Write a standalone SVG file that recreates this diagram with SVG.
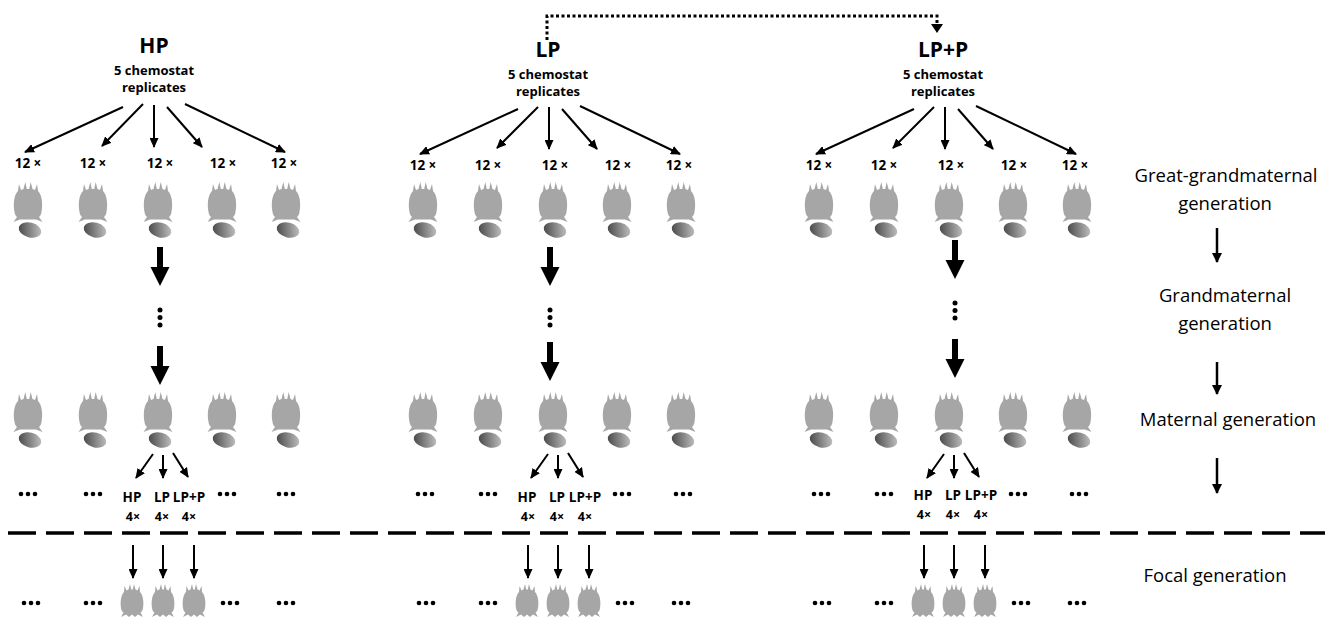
<svg xmlns="http://www.w3.org/2000/svg" width="1333" height="627" viewBox="0 0 1333 627">
<defs>
<style>
text{font-family:"Open Sans","Liberation Sans",sans-serif;fill:#000}
.t1{font-size:21px;font-weight:700;text-anchor:middle}
.t2{font-size:13px;font-weight:700;text-anchor:middle}
.n{font-size:13.5px;font-weight:700;text-anchor:middle}
.m{font-size:12.5px;font-weight:700;text-anchor:middle}
.gen{font-size:18.5px;text-anchor:middle}
.ar{stroke:#000;stroke-width:2;fill:none;marker-end:url(#ah)}
.ar2{stroke:#000;stroke-width:2.5;fill:none;marker-end:url(#ah2)}
.body{fill:#a6a6a6}
</style>
<linearGradient id="eggGrad" x1="0" y1="0.6" x2="1" y2="0.4">
<stop offset="0" stop-color="#4a4a4a"/><stop offset="1" stop-color="#bdbdbd"/>
</linearGradient>
<linearGradient id="baseGrad" x1="0" y1="0" x2="1" y2="0">
<stop offset="0" stop-color="#1a1a1a"/><stop offset="1" stop-color="#dddddd"/>
</linearGradient>
<marker id="ah" viewBox="0 0 10 9" refX="9" refY="4.5" markerWidth="10" markerHeight="9" markerUnits="userSpaceOnUse" orient="auto">
<path d="M0,0L10,4.5L0,9z"/>
</marker>
<marker id="ah2" viewBox="0 0 10 10" refX="9" refY="5" markerWidth="11" markerHeight="10" markerUnits="userSpaceOnUse" orient="auto">
<path d="M0,0L10,5L0,10z"/>
</marker>
<!-- rotifer body, top of crown at y=0, centred on x=0 -->
<path id="rot" d="M-10,9 L-9,2 L-7,8 L-4.5,7 L-2.7,0 L-1.2,7 L1.2,7 L2.7,0 L4.5,7 L7,8 L9,2 L10,9 C14,13 15,22 13.5,30 C13,33 12,34 11,35 L14.5,40 L8,37.5 L-8,37.5 L-14.5,40 L-11,35 C-12,34 -13,33 -13.5,30 C-15,22 -14,13 -10,9 Z"/>
<!-- smaller hatchling body -->
<path id="young" d="M-8,8 L-7.5,2 L-5.5,6.5 L-3.5,5.5 L-2,0 L-0.8,5.5 L0.8,5.5 L2,0 L3.5,5.5 L5.5,6.5 L7.5,2 L8,8 C11,11 12,18 11,24 C10.5,27 9.5,28 8.5,28.5 L11,33 L6,30.5 L3,33 L0,30.5 L-3,33 L-6,30.5 L-11,33 L-8.5,28.5 C-9.5,28 -10.5,27 -11,24 C-12,18 -11,11 -8,8 Z"/>
<!-- rotifer with its egg -->
<g id="adult">
<use href="#rot" class="body"/>
<ellipse cx="2" cy="48" rx="11.5" ry="7.4" transform="rotate(14 2 48)" fill="url(#eggGrad)"/>
</g>
<g id="dots"><circle cx="-7" r="2.3"/><circle r="2.3"/><circle cx="7" r="2.3"/></g>
<!-- bold downward arrow -->
<polygon id="thick" points="-3,0 3,0 3,20 9.5,20 0,39 -9.5,20 -3,20"/>
</defs>

<rect width="1333" height="627" fill="#fff"/>

<!-- HP block -->
<g id="block-hp">
<g id="header-hp">
<text class="t1" x="154" y="53">HP</text>
<text class="t2" x="154" y="75">5 chemostat</text>
<text class="t2" x="154" y="92">replicates</text>
</g>
<g id="fan-hp">
<line class="ar" x1="123" y1="107" x2="25" y2="152"/>
<line class="ar" x1="143" y1="104" x2="102" y2="146"/>
<line class="ar" x1="154" y1="105" x2="154" y2="147"/>
<line class="ar" x1="167" y1="107" x2="202" y2="147"/>
<line class="ar" x1="185" y1="104" x2="285" y2="152"/>
</g>
<g id="counts-hp">
<text class="n" x="28" y="168">12 ×</text>
<text class="n" x="93" y="168">12 ×</text>
<text class="n" x="160" y="168">12 ×</text>
<text class="n" x="223" y="168">12 ×</text>
<text class="n" x="284" y="168">12 ×</text>
</g>
<g id="gg-hp">
<use href="#adult" x="28" y="182"/><use href="#adult" x="93" y="182"/><use href="#adult" x="158" y="182"/><use href="#adult" x="222" y="182"/><use href="#adult" x="286" y="182"/>
</g>
<g id="step-hp">
<use href="#thick" x="160" y="247"/>
<circle cx="160" cy="310" r="2.5"/><circle cx="160" cy="317.5" r="2.5"/><circle cx="160" cy="325" r="2.5"/>
<use href="#thick" x="160" y="346"/>
</g>
<g id="m-hp">
<use href="#adult" x="28" y="392"/><use href="#adult" x="93" y="392"/><use href="#adult" x="158" y="392"/><use href="#adult" x="222" y="392"/><use href="#adult" x="286" y="392"/>
</g>
<g id="split-hp">
<line class="ar" x1="153" y1="454" x2="136" y2="478"/>
<line class="ar" x1="163" y1="455" x2="163" y2="478"/>
<line class="ar" x1="173" y1="453" x2="188" y2="477"/>
<text class="n" x="132" y="502">HP</text><text class="n" x="162" y="502">LP</text><text class="n" x="189" y="502">LP+P</text>
<text class="m" x="133" y="521">4×</text><text class="m" x="162" y="521">4×</text><text class="m" x="189" y="521">4×</text>
<use href="#dots" x="28" y="494"/><use href="#dots" x="93" y="494"/><use href="#dots" x="227" y="494"/><use href="#dots" x="286" y="494"/>
</g>
<g id="focal-hp">
<line class="ar" x1="133" y1="545" x2="133" y2="578"/>
<line class="ar" x1="163" y1="545" x2="163" y2="578"/>
<line class="ar" x1="194" y1="545" x2="194" y2="578"/>
<use href="#young" class="body" x="132" y="584"/>
<use href="#young" class="body" x="163" y="584"/>
<use href="#young" class="body" x="194" y="584"/>
<use href="#dots" x="31" y="603"/><use href="#dots" x="93" y="603"/><use href="#dots" x="230" y="603"/><use href="#dots" x="286" y="603"/>
</g>
</g>

<!-- LP block -->
<g id="block-lp" transform="translate(395 0)">
<g id="header-lp">
<text class="t1" x="153" y="57">LP</text>
<text class="t2" x="153" y="79">5 chemostat</text>
<text class="t2" x="153" y="96">replicates</text>
</g>
<g id="fan-lp">
<line class="ar" x1="123" y1="109" x2="25" y2="154"/>
<line class="ar" x1="143" y1="107" x2="102" y2="148"/>
<line class="ar" x1="154" y1="107" x2="154" y2="149"/>
<line class="ar" x1="167" y1="109" x2="202" y2="149"/>
<line class="ar" x1="185" y1="106" x2="285" y2="154"/>
</g>
<g id="counts-lp">
<text class="n" x="28" y="170">12 ×</text>
<text class="n" x="93" y="170">12 ×</text>
<text class="n" x="160" y="170">12 ×</text>
<text class="n" x="223" y="170">12 ×</text>
<text class="n" x="284" y="170">12 ×</text>
</g>
<g id="gg-lp">
<use href="#adult" x="28" y="182"/><use href="#adult" x="93" y="182"/><use href="#adult" x="158" y="182"/><use href="#adult" x="222" y="182"/><use href="#adult" x="286" y="182"/>
</g>
<g id="step-lp">
<use href="#thick" x="155" y="247"/>
<circle cx="155" cy="310" r="2.5"/><circle cx="155" cy="317.5" r="2.5"/><circle cx="155" cy="325" r="2.5"/>
<use href="#thick" x="155" y="342"/>
</g>
<g id="m-lp">
<use href="#adult" x="28" y="392"/><use href="#adult" x="93" y="392"/><use href="#adult" x="158" y="392"/><use href="#adult" x="222" y="392"/><use href="#adult" x="286" y="392"/>
</g>
<g id="split-lp">
<line class="ar" x1="153" y1="454" x2="136" y2="478"/>
<line class="ar" x1="163" y1="455" x2="163" y2="478"/>
<line class="ar" x1="173" y1="453" x2="188" y2="477"/>
<text class="n" x="132" y="502">HP</text><text class="n" x="162" y="502">LP</text><text class="n" x="190" y="502">LP+P</text>
<text class="m" x="133" y="521">4×</text><text class="m" x="162" y="521">4×</text><text class="m" x="190" y="521">4×</text>
<use href="#dots" x="30" y="494"/><use href="#dots" x="93" y="494"/><use href="#dots" x="227" y="494"/><use href="#dots" x="288" y="494"/>
</g>
<g id="focal-lp">
<line class="ar" x1="133" y1="545" x2="133" y2="578"/>
<line class="ar" x1="163" y1="545" x2="163" y2="578"/>
<line class="ar" x1="194" y1="545" x2="194" y2="578"/>
<use href="#young" class="body" x="132" y="584"/>
<use href="#young" class="body" x="163" y="584"/>
<use href="#young" class="body" x="194" y="584"/>
<use href="#dots" x="31" y="603"/><use href="#dots" x="93" y="603"/><use href="#dots" x="230" y="603"/><use href="#dots" x="286" y="603"/>
</g>
</g>

<!-- LP+P block -->
<g id="block-lpp" transform="translate(791 0)">
<g id="header-lpp">
<text class="t1" x="152" y="57">LP+P</text>
<text class="t2" x="152" y="79">5 chemostat</text>
<text class="t2" x="152" y="96">replicates</text>
</g>
<g id="fan-lpp">
<line class="ar" x1="123" y1="109" x2="25" y2="154"/>
<line class="ar" x1="143" y1="107" x2="102" y2="148"/>
<line class="ar" x1="154" y1="107" x2="154" y2="149"/>
<line class="ar" x1="167" y1="109" x2="202" y2="149"/>
<line class="ar" x1="185" y1="106" x2="285" y2="154"/>
</g>
<g id="counts-lpp">
<text class="n" x="28" y="170">12 ×</text>
<text class="n" x="93" y="170">12 ×</text>
<text class="n" x="160" y="170">12 ×</text>
<text class="n" x="223" y="170">12 ×</text>
<text class="n" x="284" y="170">12 ×</text>
</g>
<g id="gg-lpp">
<use href="#adult" x="28" y="182"/><use href="#adult" x="93" y="182"/><use href="#adult" x="158" y="182"/><use href="#adult" x="222" y="182"/><use href="#adult" x="286" y="182"/>
</g>
<g id="step-lpp">
<use href="#thick" x="164" y="240"/>
<circle cx="164" cy="303" r="2.5"/><circle cx="164" cy="310.5" r="2.5"/><circle cx="164" cy="318" r="2.5"/>
<use href="#thick" x="164" y="339"/>
</g>
<g id="m-lpp">
<use href="#adult" x="28" y="392"/><use href="#adult" x="93" y="392"/><use href="#adult" x="158" y="392"/><use href="#adult" x="222" y="392"/><use href="#adult" x="286" y="392"/>
</g>
<g id="split-lpp">
<line class="ar" x1="153" y1="454" x2="136" y2="478"/>
<line class="ar" x1="163" y1="455" x2="163" y2="478"/>
<line class="ar" x1="173" y1="453" x2="188" y2="477"/>
<text class="n" x="132" y="500">HP</text><text class="n" x="162" y="500">LP</text><text class="n" x="190" y="500">LP+P</text>
<text class="m" x="133" y="519">4×</text><text class="m" x="162" y="519">4×</text><text class="m" x="190" y="519">4×</text>
<use href="#dots" x="30" y="494"/><use href="#dots" x="93" y="494"/><use href="#dots" x="227" y="494"/><use href="#dots" x="288" y="494"/>
</g>
<g id="focal-lpp">
<line class="ar" x1="133" y1="545" x2="133" y2="578"/>
<line class="ar" x1="163" y1="545" x2="163" y2="578"/>
<line class="ar" x1="194" y1="545" x2="194" y2="578"/>
<use href="#young" class="body" x="132" y="584"/>
<use href="#young" class="body" x="163" y="584"/>
<use href="#young" class="body" x="194" y="584"/>
<use href="#dots" x="31" y="603"/><use href="#dots" x="93" y="603"/><use href="#dots" x="230" y="603"/><use href="#dots" x="286" y="603"/>
</g>
</g>

<!-- connectors between blocks and separators -->
<g id="connectors">
<path d="M547,40 V16 H937 V24" fill="none" stroke="#000" stroke-width="3" stroke-dasharray="3 2.5"/>
<polygon points="931,24 943,24 937,33"/>
<line x1="8" y1="533" x2="1325" y2="533" stroke="#000" stroke-width="3.5" stroke-dasharray="28 10"/>
<line x1="8" y1="624" x2="510" y2="624" stroke="url(#baseGrad)" stroke-width="1.5"/>
</g>

<!-- generation legend -->
<g id="legend">
<text class="gen" x="1226" y="182">Great-grandmaternal</text>
<text class="gen" x="1225" y="210">generation</text>
<line class="ar2" x1="1217" y1="228" x2="1217" y2="262"/>
<text class="gen" x="1225" y="302">Grandmaternal</text>
<text class="gen" x="1225" y="330">generation</text>
<line class="ar2" x1="1217" y1="362" x2="1217" y2="394"/>
<text class="gen" x="1228" y="426">Maternal generation</text>
<line class="ar2" x1="1217" y1="458" x2="1217" y2="493"/>
<text class="gen" x="1215" y="582">Focal generation</text>
</g>
</svg>
